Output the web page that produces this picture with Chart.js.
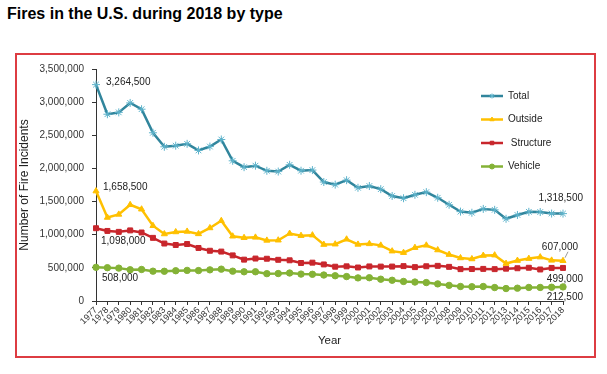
<!DOCTYPE html>
<html>
<head>
<meta charset="utf-8">
<script src="https://cdn.jsdelivr.net/npm/chart.js@4"></script>
<style>
  body { margin: 0; background: #fff; font-family: "Liberation Sans", Arial, sans-serif; }
  #title { position: absolute; left: 7px; top: 5px; font-size: 16px; font-weight: bold; color: #000; margin: 0; }
  #box { position: absolute; left: 15px; top: 53px; width: 581px; height: 305px; box-sizing: border-box; border: 2px solid #dd3c42; }
  #box canvas { display: block; }
</style>
</head>
<body>
<h1 id="title">Fires in the U.S. during 2018 by type</h1>
<div id="box"><canvas id="fireChart" width="577" height="301"></canvas></div>
<script>
let years = [];
for (let y = 1977; y <= 2018; y++) years.push(String(y));

let total = [3264500, 2817500, 2845500, 2988000, 2893500, 2538000, 2326500, 2343000, 2371000, 2271500,
  2330000, 2436500, 2115000, 2019000, 2041500, 1964500, 1952500, 2054500, 1965500, 1975000,
  1795000, 1755500, 1823000, 1708000, 1734500, 1687500, 1584500, 1550500, 1602000, 1642500,
  1557500, 1451500, 1348500, 1331500, 1389500, 1375000, 1240000, 1298000, 1345500, 1342000,
  1319500, 1318500];
let outside = [1658500, 1260000, 1306500, 1451500, 1384500, 1135500, 1011000, 1041500, 1049500, 1012500,
  1102000, 1210500, 977000, 954500, 960000, 914500, 917000, 1018000, 986000, 993500,
  851500, 857000, 931500, 854000, 862000, 839500, 752000, 729500, 805000, 840500,
  769000, 700500, 649000, 634000, 686000, 691500, 564500, 610500, 639500, 662000,
  613000, 607000];
let structure = [1098000, 1057000, 1043000, 1065000, 1033500, 952500, 867000, 845000, 859500, 800000,
  758000, 745500, 688000, 624000, 640500, 637500, 621500, 614000, 573500, 578500,
  551500, 517500, 523000, 505500, 521500, 519000, 519500, 526000, 511000, 524000,
  530500, 515000, 480500, 482000, 484500, 480500, 487500, 494000, 501500, 475500,
  499000, 499000];
let vehicle = [508000, 502500, 496000, 471500, 475500, 450000, 448500, 456500, 462000, 459000,
  470000, 480500, 450000, 440500, 441000, 412500, 414000, 422500, 406000, 403000,
  392000, 381000, 368500, 348500, 351000, 329000, 313000, 295000, 286000, 278000,
  258000, 236000, 219000, 215500, 219000, 203000, 188000, 193500, 204500, 204500,
  207500, 212500];

const FONT = '"Liberation Sans", Arial, sans-serif';
const fmt = v => v.toLocaleString("en-US");

let series = [
  { label: "Total", data: total, color: "#31859c", point: "#5fb4cc", style: "star", r: 4 },
  { label: "Outside", data: outside, color: "#ffc000", point: "#ffc000", style: "triangle", r: 3.5 },
  { label: " Structure", data: structure, color: "#c8262c", point: "#c8262c", style: "rect", r: 3.5 },
  { label: "Vehicle", data: vehicle, color: "#84b236", point: "#84b236", style: "circle", r: 3.2 },
];

// end labels: [dataset, index, dx, dy, align]
let endLabels = [
  [0, 0, 10, -2, "left"], [1, 0, 7, -4, "left"], [2, 0, 5, 13, "left"], [3, 0, 6, 11, "left"],
  [0, 41, 20, -15, "right"], [1, 41, 15, -14, "right"], [2, 41, 20, 11, "right"], [3, 41, 20, 10, "right"],
];

const extras = {
  id: "extras",
  afterDatasetsDraw(chart) {
    const ctx = chart.ctx;
    const xs = chart.scales.x, ys = chart.scales.y;
    ctx.save();
    ctx.font = "10px " + FONT;
    ctx.fillStyle = "#222";
    ctx.textBaseline = "middle";
    endLabels.forEach(([d, i, dx, dy, align]) => {
      const v = series[d].data[i];
      const px = xs.getPixelForValue(i), py = ys.getPixelForValue(v);
      ctx.textAlign = align;
      ctx.fillText(fmt(v), px + dx, py + dy);
    });
    // leader line for Outside 2018
    const lx = xs.getPixelForValue(41), ly = ys.getPixelForValue(outside[41]);
    ctx.strokeStyle = "#999";
    ctx.lineWidth = 1;
    ctx.beginPath();
    ctx.moveTo(lx + 5, ly - 9);
    ctx.lineTo(lx + 2, ly - 3);
    ctx.stroke();

    // legend
    let lx0 = 464, ly0 = 41;
    series.forEach((s, k) => {
      const y = ly0 + k * 23.5;
      ctx.strokeStyle = s.color;
      ctx.lineWidth = 2.5;
      ctx.beginPath();
      ctx.moveTo(lx0, y);
      ctx.lineTo(lx0 + 22, y);
      ctx.stroke();
      ctx.fillStyle = s.point;
      ctx.strokeStyle = s.point;
      ctx.lineWidth = 1;
      Chart.helpers.drawPoint(ctx, { pointStyle: s.style, radius: 2.5, borderWidth: 1, rotation: 0 }, lx0 + 11, y);
      ctx.fillStyle = "#222";
      ctx.textAlign = "left";
      ctx.font = "10px " + FONT;
      ctx.fillText(s.label, lx0 + 27, y);
    });
    ctx.restore();
  },
};

new Chart(document.getElementById("fireChart"), {
  type: "line",
  data: {
    labels: years,
    datasets: series.map(s => ({
      label: s.label,
      data: s.data,
      borderColor: s.color,
      backgroundColor: s.point,
      pointBorderColor: s.point,
      pointBackgroundColor: s.point,
      pointStyle: s.style,
      pointRadius: s.r,
      pointBorderWidth: 1,
      borderWidth: 2.5,
      tension: 0,
    })),
  },
  options: {
    responsive: false,
    animation: false,
    layout: { padding: { top: 8, right: 31, bottom: 0, left: 0 } },
    plugins: { legend: { display: false }, tooltip: { enabled: false } },
    scales: {
      x: {
        offset: false,
        afterFit: s => { s.height = 55; },
        grid: { drawOnChartArea: false, drawTicks: true, tickLength: 4, color: "#333" },
        border: { color: "#333", width: 1 },
        ticks: { autoSkip: false, minRotation: 45, maxRotation: 45, padding: 0, color: "#333", font: { size: 9, family: FONT } },
        title: { display: true, text: "Year", color: "#222", font: { size: 11.5, family: FONT }, padding: { top: 2, bottom: 8 } },
      },
      y: {
        min: 0,
        max: 3500000,
        afterFit: s => { s.width = 79; },
        grid: { drawOnChartArea: false, drawTicks: true, tickLength: 4, color: "#333" },
        border: { color: "#333", width: 1 },
        ticks: { stepSize: 500000, padding: 8, color: "#333", font: { size: 10, family: FONT }, callback: v => fmt(v) },
        title: { display: true, text: "Number of Fire Incidents", color: "#222", font: { size: 12, family: FONT }, padding: { top: 0, bottom: 4 } },
      },
    },
  },
  plugins: [extras],
});
</script>
</body>
</html>
